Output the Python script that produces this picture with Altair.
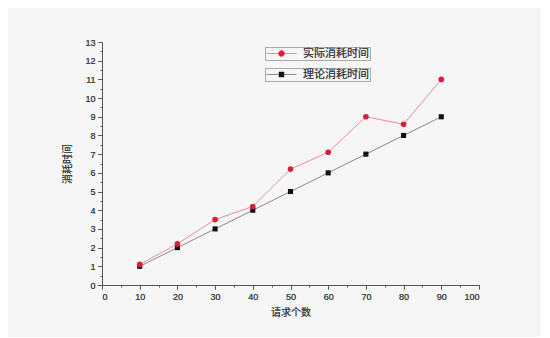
import altair as alt
import pandas as pd

x_vals = [10, 20, 30, 40, 50, 60, 70, 80, 90]
actual = [1.1, 2.2, 3.5, 4.2, 6.2, 7.1, 9.0, 8.6, 11.0]
theory = [1, 2, 3, 4, 5, 6, 7, 8, 9]
name_actual = "实际消耗时间"
name_theory = "理论消耗时间"
x_title = "请求个数"
y_title = "消耗时间"
x_major = [0, 10, 20, 30, 40, 50, 60, 70, 80, 90, 100]
x_minor = [5, 15, 25, 35, 45, 55, 65, 75, 85, 95]
y_major = list(range(0, 14))
y_minor = [i + 0.5 for i in range(0, 13)]

df_a = pd.DataFrame({"x": x_vals, "y": actual, "s": name_actual})
df_t = pd.DataFrame({"x": x_vals, "y": theory, "s": name_theory})

CJK = "Noto Sans CJK SC"
LAT = "Liberation Sans"

xs = alt.Scale(domain=[0, 100], nice=False)
ys = alt.Scale(domain=[0, 13], nice=False)

x_axis = alt.Axis(values=x_major, orient="bottom", title=x_title, grid=False,
                  tickSize=4, tickColor="#555", domainColor="#555",
                  labelFont=LAT, labelFontSize=9, labelColor="#444", labelPadding=3,
                  titleFont=CJK, titleFontSize=10, titleFontWeight="normal",
                  titleColor="#444", titlePadding=6)
y_axis = alt.Axis(values=y_major, orient="left", title=y_title, grid=False,
                  tickSize=4, tickColor="#555", domainColor="#555",
                  labelFont=LAT, labelFontSize=9, labelColor="#444", labelPadding=3,
                  titleFont=CJK, titleFontSize=10, titleFontWeight="normal",
                  titleColor="#444", titlePadding=12)
x_axis_minor = alt.Axis(values=x_minor, orient="bottom", title=None, labels=False,
                        grid=False, domain=False, tickSize=2, tickColor="#555")
y_axis_minor = alt.Axis(values=y_minor, orient="left", title=None, labels=False,
                        grid=False, domain=False, tickSize=2, tickColor="#555")

circ_path = "M-1,0H5M1.4,0A0.6,0.6,0,1,1,2.6,0A0.6,0.6,0,1,1,1.4,0Z"
sq_path = "M-1,0H5M1.5,-0.5H2.5V0.5H1.5Z"


def legend(path, ly):
    return alt.Legend(title=None, orient="none", legendX=163, legendY=ly,
                      symbolType=path, symbolSize=100, symbolStrokeWidth=1,
                      labelFont=CJK, labelFontSize=11, labelColor="#444",
                      strokeColor="#aaa", padding=1, labelOffset=26)


def series(df, line_color, pt_color, shape, path, ly, size):
    ln = alt.Chart(df).mark_line(strokeWidth=1).encode(
        x=alt.X("x:Q", scale=xs, axis=x_axis),
        y=alt.Y("y:Q", scale=ys, axis=y_axis),
        stroke=alt.Stroke("s:N", scale=alt.Scale(range=[line_color]), legend=legend(path, ly)),
    )
    pt = alt.Chart(df).mark_point(filled=True, shape=shape, size=size, opacity=1).encode(
        x=alt.X("x:Q", scale=xs, axis=x_axis),
        y=alt.Y("y:Q", scale=ys, axis=y_axis),
        fill=alt.Fill("s:N", scale=alt.Scale(range=[pt_color]), legend=legend(path, ly)),
    )
    return alt.layer(ln, pt)


sa = series(df_a, "#f08a9a", "#d81e3c", "circle", circ_path, 5, 32)
st = series(df_t, "#8a8a8a", "#111111", "square", sq_path, 26, 26)

minor = alt.Chart(df_a).mark_point(opacity=0).encode(
    x=alt.X("x:Q", scale=xs, axis=x_axis_minor),
    y=alt.Y("y:Q", scale=ys, axis=y_axis_minor),
)

chart = alt.layer(minor, st, sa).resolve_scale(
    stroke="independent", fill="independent"
).resolve_axis(x="independent", y="independent").properties(
    width=377, height=243,
    background="#f6f6f6",
    padding={"left": 94, "top": 34, "right": 62, "bottom": 52},
    autosize=alt.AutoSizeParams(type="none"),
).configure_view(stroke=None)

chart.save("out.html", embed_options={"renderer": "svg", "actions": False})
